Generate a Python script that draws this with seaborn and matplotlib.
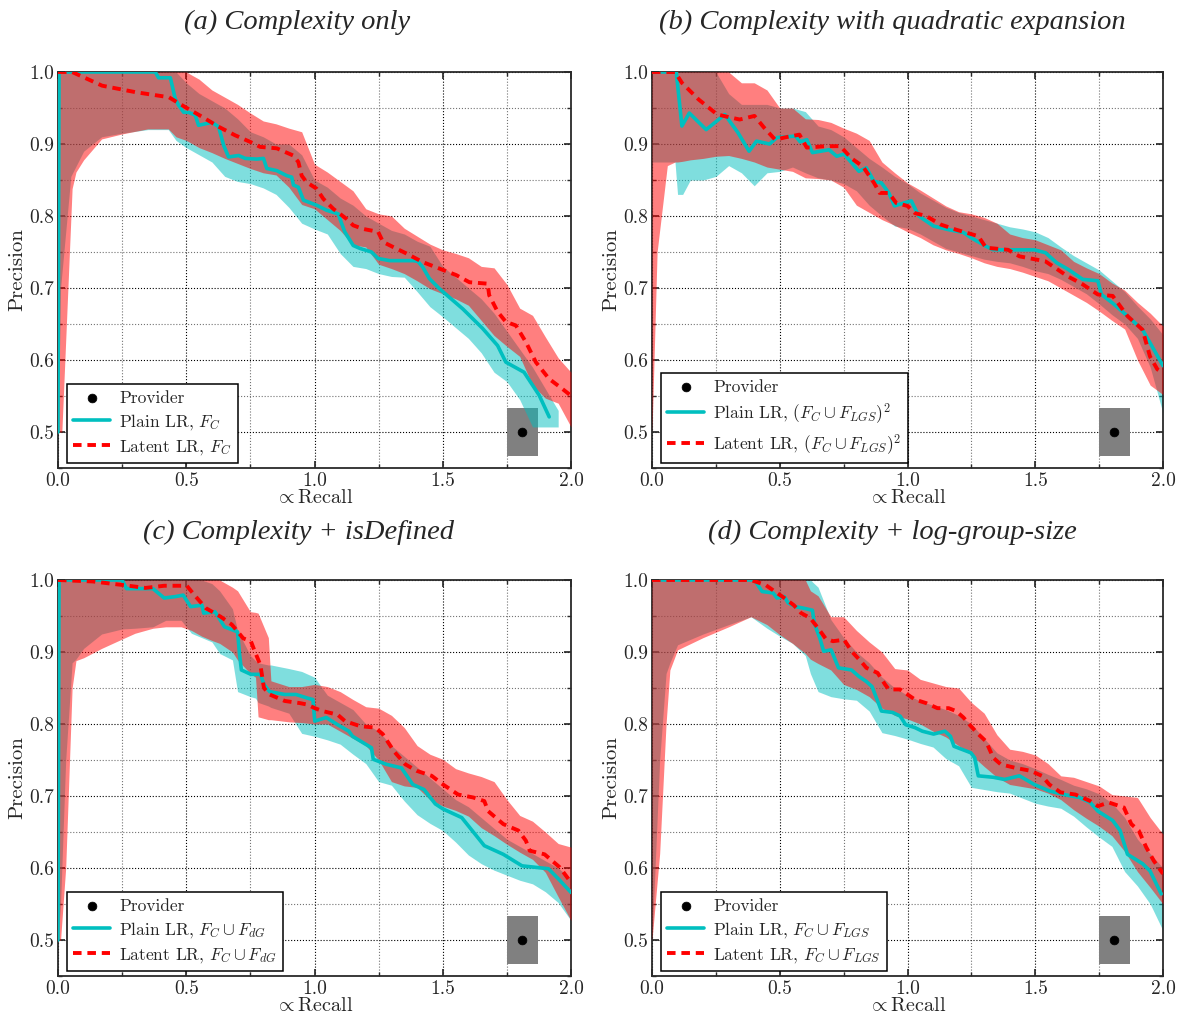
import matplotlib
matplotlib.use("Agg")
import matplotlib.pyplot as plt
from matplotlib.ticker import MultipleLocator
import seaborn as sns

# ---------------------------------------------------------------- data
titles = ["(a) Complexity only",
          "(b) Complexity with quadratic expansion",
          "(c) Complexity + isDefined",
          "(d) Complexity + log-group-size"]
feature_labels = [r"$F_C$",
                  r"$(F_C \cup F_{LGS})^2$",
                  r"$F_C \cup F_{dG}$",
                  r"$F_C \cup F_{LGS}$"]

# provider operating point and its spread
provider_recall = 1.81
provider_precision = 0.50
provider_recall_spread = 0.06
provider_precision_spread = 0.034

# ---- (a) complexity only
a_plain_x = [0.0, 0.004, 0.379, 0.392, 0.438, 0.457, 0.47, 0.49, 0.509, 0.535, 0.548, 0.6, 0.626, 0.646, 0.665, 0.704,
             0.73, 0.775, 0.801, 0.814, 0.853, 0.892, 0.911, 0.918, 0.937, 0.957, 1.008, 1.047, 1.092, 1.118, 1.151,
             1.177, 1.222, 1.248, 1.293, 1.384, 1.403, 1.422, 1.448, 1.487, 1.578, 1.655, 1.714, 1.746, 1.817, 1.876,
             1.915]
a_plain_y = [0.5, 1.0, 1.0, 0.992, 0.992, 0.963, 0.954, 0.944, 0.944, 0.94, 0.926, 0.93, 0.924, 0.898, 0.882, 0.884,
             0.88, 0.879, 0.88, 0.866, 0.863, 0.856, 0.854, 0.843, 0.84, 0.822, 0.815, 0.808, 0.803, 0.778, 0.759,
             0.755, 0.75, 0.741, 0.738, 0.738, 0.737, 0.729, 0.713, 0.699, 0.671, 0.644, 0.62, 0.597, 0.583, 0.551,
             0.521]
a_plain_band_x = [0.0, 0.01, 0.05, 0.1, 0.17, 0.25, 0.35, 0.43, 0.46, 0.5, 0.55, 0.6, 0.65, 0.7, 0.75, 0.8, 0.85,
                  0.9, 0.95, 1.0, 1.05, 1.1, 1.15, 1.2, 1.25, 1.3, 1.35, 1.4, 1.45, 1.5, 1.55, 1.6, 1.65, 1.7, 1.75,
                  1.8, 1.85, 1.9, 1.95]
a_plain_lo = [0.5, 0.7, 0.855, 0.89, 0.91, 0.915, 0.92, 0.92, 0.905, 0.895, 0.885, 0.875, 0.855, 0.848, 0.845, 0.839,
              0.83, 0.812, 0.79, 0.782, 0.775, 0.748, 0.73, 0.727, 0.72, 0.716, 0.715, 0.695, 0.674, 0.66, 0.645,
              0.63, 0.61, 0.583, 0.57, 0.545, 0.507, 0.507, 0.507]
a_plain_hi = [1.0, 1.0, 1.0, 1.0, 1.0, 1.0, 1.0, 1.0, 1.0, 0.985, 0.97, 0.96, 0.95, 0.935, 0.917, 0.91, 0.9, 0.9,
              0.885, 0.85, 0.84, 0.825, 0.815, 0.8, 0.79, 0.78, 0.775, 0.765, 0.758, 0.73, 0.715, 0.7, 0.685, 0.665,
              0.64, 0.615, 0.59, 0.56, 0.53]
a_latent_x = [0.0, 0.055, 0.172, 0.302, 0.432, 0.497, 0.561, 0.626, 0.691, 0.749, 0.788, 0.853, 0.917, 0.937, 0.95,
              0.969, 1.008, 1.034, 1.073, 1.125, 1.151, 1.19, 1.248, 1.267, 1.306, 1.358, 1.422, 1.487, 1.552, 1.604,
              1.675, 1.681, 1.714, 1.746, 1.785, 1.824, 1.863, 1.914, 1.966, 1.998]
a_latent_y = [1.0, 1.0, 0.981, 0.972, 0.965, 0.951, 0.938, 0.924, 0.912, 0.903, 0.896, 0.894, 0.884, 0.875, 0.856,
              0.847, 0.838, 0.824, 0.81, 0.796, 0.787, 0.782, 0.778, 0.764, 0.757, 0.748, 0.736, 0.727, 0.718, 0.708,
              0.706, 0.69, 0.667, 0.653, 0.648, 0.625, 0.597, 0.574, 0.56, 0.551]
a_latent_band_x = [0.0, 0.015, 0.055, 0.07, 0.1, 0.17, 0.25, 0.35, 0.43, 0.46, 0.5, 0.55, 0.6, 0.65, 0.7, 0.75, 0.8,
                   0.85, 0.9, 0.95, 1.0, 1.05, 1.1, 1.15, 1.2, 1.25, 1.3, 1.35, 1.4, 1.45, 1.5, 1.55, 1.6, 1.65, 1.7,
                   1.75, 1.8, 1.85, 1.9, 1.95, 2.0]
a_latent_lo = [0.5, 0.5, 0.838, 0.861, 0.878, 0.907, 0.914, 0.921, 0.921, 0.91, 0.905, 0.895, 0.888, 0.88, 0.873,
               0.866, 0.86, 0.857, 0.84, 0.816, 0.81, 0.795, 0.78, 0.76, 0.757, 0.733, 0.727, 0.72, 0.71, 0.699,
               0.692, 0.685, 0.676, 0.655, 0.634, 0.619, 0.605, 0.565, 0.547, 0.54, 0.507]
a_latent_hi = [1.0, 1.0, 1.0, 1.0, 1.0, 1.0, 1.0, 1.0, 1.0, 1.0, 1.0, 0.99, 0.975, 0.965, 0.955, 0.943, 0.932, 0.928,
               0.922, 0.917, 0.872, 0.861, 0.848, 0.835, 0.81, 0.803, 0.8, 0.783, 0.772, 0.761, 0.753, 0.748, 0.742,
               0.73, 0.728, 0.705, 0.672, 0.662, 0.632, 0.603, 0.583]

# ---- (b) complexity with quadratic expansion
b_plain_x = [0.0, 0.095, 0.117, 0.146, 0.212, 0.285, 0.336, 0.38, 0.409, 0.46, 0.489, 0.562, 0.58, 0.606, 0.628,
             0.693, 0.723, 0.752, 0.781, 0.81, 0.839, 0.869, 0.898, 0.927, 0.949, 0.985, 1.015, 1.044, 1.102, 1.161,
             1.219, 1.248, 1.307, 1.336, 1.496, 1.54, 1.584, 1.628, 1.686, 1.745, 1.759, 1.803, 1.861, 1.92, 1.949,
             2.0]
b_plain_y = [1.0, 1.0, 0.925, 0.943, 0.92, 0.941, 0.916, 0.89, 0.904, 0.9, 0.909, 0.911, 0.903, 0.906, 0.888, 0.892,
             0.883, 0.886, 0.874, 0.862, 0.867, 0.848, 0.846, 0.832, 0.814, 0.818, 0.821, 0.8, 0.786, 0.781, 0.777,
             0.77, 0.758, 0.753, 0.753, 0.749, 0.735, 0.726, 0.712, 0.71, 0.691, 0.679, 0.661, 0.642, 0.624, 0.592]
b_latent_x = [0.0, 0.09, 0.117, 0.182, 0.255, 0.343, 0.401, 0.438, 0.482, 0.518, 0.577, 0.606, 0.679, 0.737, 0.781,
              0.825, 0.869, 0.891, 0.927, 0.956, 1.0, 1.029, 1.073, 1.131, 1.19, 1.277, 1.307, 1.394, 1.438, 1.54,
              1.628, 1.686, 1.745, 1.803, 1.861, 1.92, 1.949, 1.978, 2.0]
b_latent_y = [1.0, 1.0, 0.985, 0.962, 0.941, 0.934, 0.939, 0.923, 0.906, 0.909, 0.913, 0.895, 0.897, 0.897, 0.88,
              0.869, 0.846, 0.832, 0.832, 0.818, 0.814, 0.804, 0.8, 0.788, 0.781, 0.772, 0.756, 0.753, 0.744, 0.737,
              0.716, 0.705, 0.691, 0.689, 0.661, 0.642, 0.605, 0.587, 0.582]
b_band_x = [0.0, 0.02, 0.06, 0.09, 0.1, 0.12, 0.15, 0.2, 0.25, 0.3, 0.35, 0.4, 0.45, 0.5, 0.55, 0.6, 0.65, 0.7,
            0.75, 0.8, 0.85, 0.9, 0.95, 1.0, 1.05, 1.1, 1.15, 1.2, 1.25, 1.3, 1.35, 1.4, 1.45, 1.5, 1.55, 1.6, 1.65,
            1.7, 1.75, 1.8, 1.85, 1.9, 1.95, 2.0]
b_plain_lo = [0.875, 0.875, 0.875, 0.875, 0.83, 0.83, 0.85, 0.85, 0.855, 0.87, 0.86, 0.842, 0.86, 0.862, 0.868, 0.86,
              0.853, 0.85, 0.845, 0.835, 0.815, 0.8, 0.786, 0.783, 0.775, 0.765, 0.755, 0.75, 0.745, 0.74, 0.737,
              0.735, 0.73, 0.724, 0.72, 0.712, 0.702, 0.692, 0.678, 0.663, 0.65, 0.63, 0.59, 0.526]
b_plain_hi = [1.0, 1.0, 1.0, 1.0, 1.0, 1.0, 1.0, 1.0, 1.0, 0.97, 0.955, 0.955, 0.955, 0.95, 0.95, 0.945, 0.925, 0.92,
              0.91, 0.895, 0.88, 0.868, 0.855, 0.845, 0.832, 0.822, 0.812, 0.805, 0.8, 0.795, 0.79, 0.785, 0.782,
              0.778, 0.77, 0.757, 0.745, 0.735, 0.725, 0.71, 0.695, 0.675, 0.657, 0.635]
b_latent_lo = [0.5, 0.75, 0.87, 0.875, 0.875, 0.876, 0.878, 0.88, 0.883, 0.884, 0.88, 0.875, 0.868, 0.865, 0.862,
               0.853, 0.852, 0.85, 0.84, 0.815, 0.805, 0.795, 0.787, 0.778, 0.77, 0.76, 0.753, 0.748, 0.742, 0.735,
               0.73, 0.727, 0.722, 0.716, 0.71, 0.7, 0.69, 0.68, 0.668, 0.655, 0.643, 0.6, 0.565, 0.552]
b_latent_hi = [1.0, 1.0, 1.0, 1.0, 1.0, 1.0, 1.0, 1.0, 1.0, 1.0, 0.985, 0.985, 0.975, 0.95, 0.95, 0.935, 0.934, 0.93,
               0.922, 0.915, 0.905, 0.875, 0.86, 0.846, 0.836, 0.825, 0.814, 0.806, 0.803, 0.798, 0.79, 0.775, 0.77,
               0.767, 0.76, 0.753, 0.737, 0.728, 0.72, 0.707, 0.697, 0.68, 0.665, 0.647]

# ---- (c) complexity + isDefined
c_plain_x = [0.0, 0.004, 0.25, 0.267, 0.326, 0.37, 0.414, 0.458, 0.488, 0.517, 0.561, 0.568, 0.612, 0.649, 0.678,
             0.7, 0.708, 0.715, 0.752, 0.789, 0.803, 0.825, 0.884, 0.928, 0.972, 0.994, 1.001, 1.046, 1.09, 1.134,
             1.148, 1.222, 1.229, 1.28, 1.339, 1.383, 1.427, 1.471, 1.501, 1.574, 1.662, 1.736, 1.809, 1.912, 1.956,
             2.0]
c_plain_y = [0.5, 1.0, 1.0, 0.988, 0.988, 0.988, 0.975, 0.977, 0.979, 0.963, 0.965, 0.954, 0.956, 0.935, 0.931,
             0.928, 0.896, 0.875, 0.869, 0.869, 0.855, 0.845, 0.841, 0.841, 0.836, 0.834, 0.804, 0.809, 0.799, 0.79,
             0.783, 0.767, 0.751, 0.744, 0.739, 0.716, 0.709, 0.689, 0.682, 0.67, 0.631, 0.619, 0.603, 0.599, 0.583,
             0.566]
c_latent_x = [0.0, 0.135, 0.253, 0.341, 0.414, 0.502, 0.532, 0.576, 0.634, 0.678, 0.722, 0.752, 0.767, 0.789, 0.803,
              0.825, 0.884, 0.943, 0.972, 1.001, 1.031, 1.09, 1.119, 1.178, 1.236, 1.266, 1.31, 1.354, 1.398, 1.457,
              1.501, 1.56, 1.618, 1.662, 1.677, 1.736, 1.795, 1.824, 1.839, 1.897, 1.956, 2.0]
c_latent_y = [1.0, 0.998, 0.993, 0.989, 0.992, 0.992, 0.979, 0.961, 0.949, 0.938, 0.919, 0.915, 0.901, 0.882, 0.85,
              0.841, 0.832, 0.829, 0.827, 0.822, 0.818, 0.813, 0.804, 0.797, 0.795, 0.786, 0.762, 0.744, 0.735, 0.728,
              0.716, 0.702, 0.698, 0.693, 0.679, 0.661, 0.652, 0.638, 0.624, 0.619, 0.601, 0.58]
c_band_x = [0.0, 0.01, 0.03, 0.055, 0.07, 0.1, 0.17, 0.25, 0.3, 0.37, 0.42, 0.48, 0.52, 0.56, 0.6, 0.63, 0.68, 0.7,
            0.75, 0.77, 0.78, 0.82, 0.83, 0.9, 0.95, 1.0, 1.05, 1.1, 1.15, 1.2, 1.25, 1.3, 1.35, 1.4, 1.45, 1.5,
            1.55, 1.6, 1.65, 1.7, 1.75, 1.8, 1.85, 1.9, 1.95, 2.0]
c_plain_lo = [0.5, 0.55, 0.75, 0.885, 0.89, 0.905, 0.925, 0.932, 0.933, 0.935, 0.944, 0.944, 0.926, 0.92, 0.914,
              0.898, 0.889, 0.845, 0.838, 0.836, 0.83, 0.825, 0.823, 0.815, 0.787, 0.783, 0.778, 0.772, 0.758, 0.745,
              0.72, 0.715, 0.693, 0.674, 0.662, 0.652, 0.636, 0.618, 0.606, 0.597, 0.59, 0.583, 0.578, 0.567, 0.552,
              0.527]
c_plain_hi = [1.0, 1.0, 1.0, 1.0, 1.0, 1.0, 1.0, 1.0, 1.0, 1.0, 1.0, 1.0, 1.0, 1.0, 0.995, 0.985, 0.96, 0.93, 0.895,
              0.888, 0.885, 0.882, 0.882, 0.877, 0.873, 0.865, 0.84, 0.83, 0.82, 0.8, 0.79, 0.77, 0.755, 0.74, 0.725,
              0.71, 0.695, 0.685, 0.67, 0.655, 0.64, 0.63, 0.62, 0.61, 0.6, 0.585]
c_latent_lo = [0.5, 0.5, 0.6, 0.85, 0.888, 0.892, 0.905, 0.918, 0.926, 0.933, 0.935, 0.935, 0.93, 0.922, 0.916,
               0.912, 0.9, 0.889, 0.87, 0.865, 0.81, 0.806, 0.806, 0.803, 0.802, 0.8, 0.8, 0.79, 0.78, 0.77, 0.75,
               0.72, 0.714, 0.712, 0.695, 0.686, 0.68, 0.672, 0.656, 0.645, 0.633, 0.622, 0.612, 0.594, 0.56, 0.527]
c_latent_hi = [1.0, 1.0, 1.0, 1.0, 1.0, 1.0, 1.0, 1.0, 1.0, 1.0, 1.0, 1.0, 1.0, 1.0, 1.0, 1.0, 0.99, 0.985, 0.956,
               0.955, 0.954, 0.92, 0.86, 0.852, 0.852, 0.855, 0.852, 0.845, 0.834, 0.824, 0.822, 0.812, 0.795, 0.77,
               0.758, 0.751, 0.738, 0.732, 0.727, 0.72, 0.695, 0.673, 0.665, 0.65, 0.634, 0.629]

# ---- (d) complexity + log-group-size
d_plain_x = [0.0, 0.401, 0.431, 0.474, 0.489, 0.518, 0.533, 0.562, 0.591, 0.628, 0.635, 0.657, 0.672, 0.701, 0.73,
             0.781, 0.81, 0.839, 0.861, 0.883, 0.898, 0.942, 0.971, 0.993, 1.029, 1.058, 1.102, 1.146, 1.168, 1.182,
             1.248, 1.263, 1.277, 1.336, 1.38, 1.438, 1.496, 1.555, 1.613, 1.672, 1.715, 1.745, 1.803, 1.832, 1.861,
             1.92, 1.949, 1.993]
d_plain_y = [1.0, 1.0, 0.984, 0.982, 0.975, 0.977, 0.968, 0.963, 0.961, 0.958, 0.94, 0.919, 0.901, 0.903, 0.878,
             0.875, 0.866, 0.859, 0.852, 0.832, 0.818, 0.816, 0.811, 0.799, 0.795, 0.79, 0.786, 0.79, 0.783, 0.769,
             0.76, 0.753, 0.728, 0.726, 0.723, 0.728, 0.716, 0.707, 0.702, 0.698, 0.691, 0.679, 0.666, 0.652, 0.619,
             0.606, 0.596, 0.564]
d_latent_x = [0.0, 0.387, 0.445, 0.489, 0.518, 0.555, 0.584, 0.62, 0.65, 0.679, 0.708, 0.752, 0.781, 0.818, 0.839,
              0.883, 0.912, 0.927, 0.971, 1.0, 1.029, 1.073, 1.117, 1.161, 1.19, 1.219, 1.248, 1.277, 1.307, 1.336,
              1.365, 1.423, 1.482, 1.526, 1.555, 1.599, 1.657, 1.715, 1.745, 1.788, 1.847, 1.876, 1.905, 1.934,
              1.964, 2.0]
d_latent_y = [1.0, 1.0, 0.993, 0.982, 0.975, 0.965, 0.954, 0.947, 0.933, 0.919, 0.915, 0.917, 0.901, 0.887, 0.878,
              0.871, 0.855, 0.848, 0.848, 0.841, 0.834, 0.829, 0.822, 0.822, 0.818, 0.809, 0.797, 0.786, 0.776, 0.753,
              0.744, 0.739, 0.735, 0.728, 0.716, 0.705, 0.702, 0.693, 0.686, 0.691, 0.684, 0.661, 0.652, 0.629, 0.61,
              0.592]
d_band_x = [0.0, 0.03, 0.055, 0.07, 0.1, 0.2, 0.3, 0.387, 0.45, 0.5, 0.55, 0.6, 0.62, 0.65, 0.7, 0.75, 0.8, 0.85,
            0.9, 0.95, 1.0, 1.05, 1.1, 1.15, 1.2, 1.25, 1.3, 1.35, 1.4, 1.45, 1.5, 1.55, 1.6, 1.65, 1.7, 1.75, 1.8,
            1.85, 1.9, 1.95, 2.0]
d_plain_lo = [0.5, 0.75, 0.87, 0.885, 0.91, 0.925, 0.938, 0.949, 0.933, 0.922, 0.912, 0.895, 0.87, 0.845, 0.838,
              0.835, 0.833, 0.818, 0.788, 0.784, 0.779, 0.773, 0.768, 0.752, 0.742, 0.712, 0.709, 0.706, 0.704, 0.697,
              0.69, 0.686, 0.683, 0.672, 0.657, 0.643, 0.63, 0.595, 0.575, 0.55, 0.513]
d_plain_hi = [1.0, 1.0, 1.0, 1.0, 1.0, 1.0, 1.0, 1.0, 1.0, 1.0, 1.0, 1.0, 1.0, 0.99, 0.945, 0.92, 0.9, 0.885, 0.865,
              0.85, 0.84, 0.832, 0.826, 0.82, 0.812, 0.8, 0.78, 0.76, 0.75, 0.745, 0.738, 0.73, 0.723, 0.715, 0.71,
              0.703, 0.69, 0.67, 0.64, 0.62, 0.6]
d_latent_lo = [0.5, 0.62, 0.8, 0.875, 0.903, 0.92, 0.935, 0.949, 0.938, 0.924, 0.912, 0.898, 0.89, 0.884, 0.875,
               0.855, 0.848, 0.838, 0.822, 0.812, 0.807, 0.8, 0.79, 0.782, 0.77, 0.757, 0.741, 0.726, 0.716, 0.713,
               0.71, 0.704, 0.695, 0.681, 0.669, 0.658, 0.645, 0.623, 0.595, 0.573, 0.55]
d_latent_hi = [1.0, 1.0, 1.0, 1.0, 1.0, 1.0, 1.0, 1.0, 1.0, 1.0, 1.0, 1.0, 0.985, 0.978, 0.949, 0.949, 0.93, 0.914,
               0.9, 0.877, 0.875, 0.862, 0.857, 0.852, 0.85, 0.83, 0.815, 0.785, 0.765, 0.762, 0.757, 0.745, 0.728,
               0.726, 0.72, 0.714, 0.702, 0.7, 0.698, 0.67, 0.647]

panels = [
    dict(plain=(a_plain_x, a_plain_y), plain_band=(a_plain_band_x, a_plain_lo, a_plain_hi),
         latent=(a_latent_x, a_latent_y), latent_band=(a_latent_band_x, a_latent_lo, a_latent_hi)),
    dict(plain=(b_plain_x, b_plain_y), plain_band=(b_band_x, b_plain_lo, b_plain_hi),
         latent=(b_latent_x, b_latent_y), latent_band=(b_band_x, b_latent_lo, b_latent_hi)),
    dict(plain=(c_plain_x, c_plain_y), plain_band=(c_band_x, c_plain_lo, c_plain_hi),
         latent=(c_latent_x, c_latent_y), latent_band=(c_band_x, c_latent_lo, c_latent_hi)),
    dict(plain=(d_plain_x, d_plain_y), plain_band=(d_band_x, d_plain_lo, d_plain_hi),
         latent=(d_latent_x, d_latent_y), latent_band=(d_band_x, d_latent_lo, d_latent_hi)),
]

# ---------------------------------------------------------------- style
sns.set_theme(style="white")
plt.rcParams.update({
    "font.family": ["cmr10", "DejaVu Serif"],
    "mathtext.fontset": "cm",
    "axes.formatter.use_mathtext": True,
    "axes.unicode_minus": False,
    "axes.edgecolor": "#2a2a2a",
    "axes.linewidth": 1.3,
    "axes.axisbelow": True,
})

CYAN = "#00BFBF"
RED = "#FF0000"

W, H = 1177, 1015
fig = plt.figure(figsize=(W / 100, H / 100), dpi=100)

# axes rectangles in pixels: left, top, right, bottom
boxes = [(58, 72, 571, 468), (652, 72, 1163, 468), (58, 580, 571, 976), (652, 580, 1163, 976)]
title_pos = [(297.5, 22), (892, 22), (298.5, 532), (892, 532)]

for i, (box, spec) in enumerate(zip(boxes, panels)):
    l, t, r, b = box
    ax = fig.add_axes([l / W, 1 - b / H, (r - l) / W, (b - t) / H])

    # provider spread box
    ax.fill_between([provider_recall - provider_recall_spread, provider_recall + provider_recall_spread],
                    provider_precision - provider_precision_spread,
                    provider_precision + provider_precision_spread,
                    color="#808080", lw=0, zorder=1)

    bx, lo, hi = spec["plain_band"]
    ax.fill_between(bx, lo, hi, color=CYAN, alpha=0.5, lw=0, zorder=2)
    bx, lo, hi = spec["latent_band"]
    ax.fill_between(bx, lo, hi, color=RED, alpha=0.5, lw=0, zorder=3)

    px, py = spec["plain"]
    sns.lineplot(x=px, y=py, ax=ax, color=CYAN, lw=2.6, estimator=None, sort=False,
                 label="Plain LR, " + feature_labels[i], zorder=4)
    lx, ly = spec["latent"]
    sns.lineplot(x=lx, y=ly, ax=ax, color=RED, lw=2.8, estimator=None, sort=False,
                 linestyle=(0, (2.2, 1.5)), label="Latent LR, " + feature_labels[i], zorder=5)
    sns.scatterplot(x=[provider_recall], y=[provider_precision], ax=ax, color="black", s=40,
                    edgecolor="black", label="Provider", zorder=6)

    ax.set_xlim(0, 2.0)
    ax.set_ylim(0.45, 1.0)
    ax.xaxis.set_major_locator(MultipleLocator(0.5))
    ax.xaxis.set_minor_locator(MultipleLocator(0.25))
    ax.yaxis.set_major_locator(MultipleLocator(0.1))
    ax.yaxis.set_minor_locator(MultipleLocator(0.05))
    ax.grid(True, which="major", color="black", ls=":", lw=0.8)
    ax.grid(True, which="minor", color="0.45", ls=":", lw=0.8)
    ax.tick_params(which="both", direction="in", top=True, right=True, bottom=True, left=True,
                   labelsize=14, pad=3, color="#2a2a2a")
    ax.tick_params(which="major", length=5)
    ax.tick_params(which="minor", length=3)
    ax.set_xticks([0.0, 0.5, 1.0, 1.5, 2.0])
    ax.set_xticklabels(["0.0", "0.5", "1.0", "1.5", "2.0"])
    ax.set_yticks([0.5, 0.6, 0.7, 0.8, 0.9, 1.0])
    ax.set_yticklabels(["0.5", "0.6", "0.7", "0.8", "0.9", "1.0"])

    ax.set_xlabel(r"$\propto$Recall", fontsize=14.5, labelpad=-1)
    ax.set_ylabel("Precision", fontsize=15, labelpad=2)

    handles, labels = ax.get_legend_handles_labels()
    order = [labels.index("Provider"), labels.index("Plain LR, " + feature_labels[i]),
             labels.index("Latent LR, " + feature_labels[i])]
    leg = ax.legend([handles[k] for k in order], [labels[k] for k in order],
                    loc="lower left", bbox_to_anchor=(0.018, 0.013), borderaxespad=0,
                    fontsize=12.5, frameon=True, fancybox=False, framealpha=1, edgecolor="black",
                    handlelength=2.1, handletextpad=0.55, labelspacing=0.35, borderpad=0.35,
                    scatterpoints=1)
    leg.get_frame().set_linewidth(1.1)
    leg.set_zorder(10)

    tx, ty = title_pos[i]
    fig.text(tx / W, 1 - ty / H, titles[i], ha="center", va="center", fontsize=20.5,
             fontfamily="Liberation Serif", fontstyle="italic")

fig.savefig("out.png", dpi=100)
